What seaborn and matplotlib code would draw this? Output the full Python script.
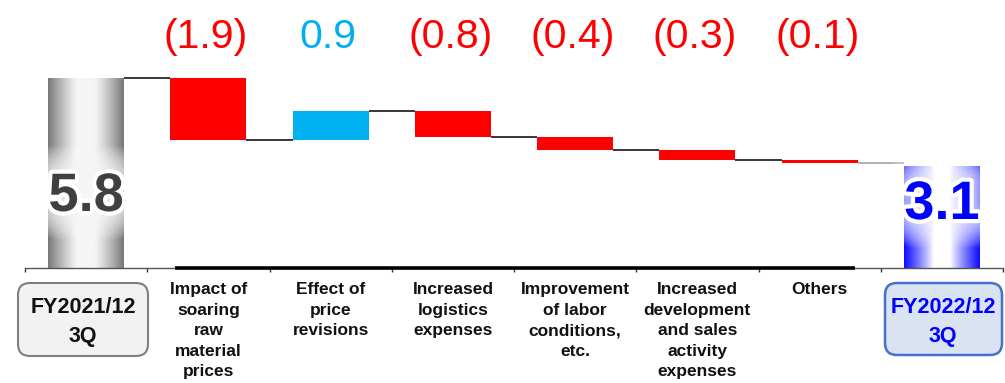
import numpy as np
import pandas as pd
import matplotlib
matplotlib.use("Agg")
import matplotlib.pyplot as plt
import matplotlib.patheffects as pe
import matplotlib.transforms as mtransforms
from matplotlib.patches import FancyBboxPatch
from matplotlib.colors import to_rgb
import seaborn as sns

# ---------------- data ----------------
categories = [
    "FY2021/12\n3Q",
    "Impact of\nsoaring\nraw\nmaterial\nprices",
    "Effect of\nprice\nrevisions",
    "Increased\nlogistics\nexpenses",
    "Improvement\nof labor\nconditions,\netc.",
    "Increased\ndevelopment\nand sales\nactivity\nexpenses",
    "Others",
    "FY2022/12\n3Q",
]
start_value = 5.8
end_value = 3.1
changes = [-1.9, 0.9, -0.8, -0.4, -0.3, -0.1]
change_labels = ["(1.9)", "0.9", "(0.8)", "(0.4)", "(0.3)", "(0.1)"]
total_labels = ["5.8", "3.1"]

# ---------------- derived waterfall geometry ----------------
bottoms = [0.0]
heights = [start_value]
levels = [start_value]
running = start_value
for c in changes:
    new = running + c
    bottoms.append(min(running, new))
    heights.append(abs(c))
    running = new
    levels.append(running)
bottoms.append(0.0)
heights.append(end_value)

df = pd.DataFrame({"category": categories, "height": heights})

RED = "#ff0000"
CYAN = "#00b0f0"

sns.set_theme(style="white")
plt.rcParams["font.family"] = ["Liberation Sans", "DejaVu Sans"]

W, H = 1005, 383
fig = plt.figure(figsize=(W / 100, H / 100), dpi=100)
ax = fig.add_axes([25 / W, (H - 268) / H, 978 / W, 268 / H])

BAR_W = 0.62
sns.barplot(data=df, x="category", y="height", order=categories,
            bottom=bottoms, width=BAR_W, ax=ax, errorbar=None,
            saturation=1, linewidth=0, color=RED)

patches = list(ax.patches)


def gradient_fill(patch, light, dark, power=1.2):
    x0, y0 = patch.get_x(), patch.get_y()
    w, h = patch.get_width(), patch.get_height()
    u = np.linspace(0, 1, 300)
    d = np.abs(2 * u - 1)
    s = np.clip((d - 0.22) / 0.78, 0, 1) ** power
    rgb = (np.array(to_rgb(light))[None, :] * (1 - s[:, None])
           + np.array(to_rgb(dark))[None, :] * s[:, None])
    img = np.tile(rgb[None, :, :], (2, 1, 1))
    im = ax.imshow(img, extent=[x0, x0 + w, y0, y0 + h], aspect="auto",
                   interpolation="bilinear", zorder=patch.get_zorder())
    im.set_clip_path(patch)
    patch.set_facecolor("none")


for i, p in enumerate(patches):
    p.set_linewidth(0)
    if i == 0:
        gradient_fill(p, "#f6f6f6", "#777777")
    elif i == len(patches) - 1:
        gradient_fill(p, "#ffffff", "#0a0aff", power=0.9)
    else:
        p.set_facecolor(RED if changes[i - 1] < 0 else CYAN)

# connectors
for i in range(len(categories) - 1):
    lvl = levels[i] if i < len(levels) else levels[-1]
    col = "#9a9a9a" if i == len(categories) - 2 else "black"
    ax.hlines(lvl, i + BAR_W / 2, i + 1 - BAR_W / 2, color=col, lw=1.1, zorder=3)

ax.set_xlim(-0.5, len(categories) - 0.5)
ax.set_ylim(0, 268 / 32.8)

# axes styling
for s in ["left", "top", "right"]:
    ax.spines[s].set_visible(False)
ax.spines["bottom"].set_color("#555555")
ax.spines["bottom"].set_linewidth(1.0)
ax.set_yticks([])
ax.set_ylabel("")
ax.set_xlabel("")
ax.plot([0.73, 6.29], [0, 0], color="black", lw=2.6, clip_on=False,
        zorder=5, solid_capstyle="butt")
ax.set_xticks(np.arange(-0.5, len(categories), 1), minor=True)
ax.tick_params(axis="x", which="minor", bottom=True, length=3, width=1,
               color="#333333", direction="out")
ax.set_xticks(range(len(categories)))
ax.set_xticklabels([c if 0 < i < len(categories) - 1 else ""
                    for i, c in enumerate(categories)])
ax.tick_params(axis="x", which="major", length=0, pad=10.0)
for lab in ax.get_xticklabels():
    lab.set_fontsize(12.5)
    lab.set_fontweight("bold")
    lab.set_linespacing(1.47)
    lab.set_color("#111111")
    lab.set_verticalalignment("top")

# value labels for changes
btrans = mtransforms.blended_transform_factory(ax.transData, ax.transAxes)
for i, (c, lab) in enumerate(zip(changes, change_labels)):
    ax.text(i + 1 - 0.02, (268 - 48) / 268, lab, transform=btrans, ha="center",
            va="baseline", fontsize=29.5, color=RED if c < 0 else CYAN)

# big total labels with a soft white glow
glow = [pe.Stroke(linewidth=lw, foreground="white", alpha=0.09)
        for lw in range(40, 6, -3)]
glow += [pe.Stroke(linewidth=6, foreground="white", alpha=1.0), pe.Normal()]
ax.text(0, (268 - 197) / 32.8, total_labels[0], ha="center", va="center",
        fontsize=39, fontweight="bold", color="#404040", zorder=6,
        path_effects=glow)
ax.text(len(categories) - 1, (268 - 205) / 32.8, total_labels[1],
        ha="center", va="center", fontsize=39, fontweight="bold",
        color="#0000ff", zorder=6, path_effects=glow)

# boxed start/end labels (pixel coordinates from top-left)
pxT = mtransforms.Affine2D().scale(1 / 100, -1 / 100).translate(0, H / 100) + fig.dpi_scale_trans
box1 = FancyBboxPatch((18, 283), 130, 73, boxstyle="round,pad=0,rounding_size=12",
                      transform=pxT, facecolor="#f2f2f2", edgecolor="#7f7f7f", lw=1.5)
box2 = FancyBboxPatch((885, 283), 117, 72, boxstyle="round,pad=0,rounding_size=12",
                      transform=pxT, facecolor="#dae3f3", edgecolor="#4472c4", lw=1.8)
fig.add_artist(box1)
fig.add_artist(box2)
fig.text(83, 322, categories[0], transform=pxT, ha="center", va="center",
         fontsize=15.5, fontweight="bold", color="#111111", linespacing=1.45)
fig.text(943, 322, categories[-1], transform=pxT, ha="center", va="center",
         fontsize=15.5, fontweight="bold", color="#0000ff", linespacing=1.45)

fig.savefig("out.png", dpi=100)
